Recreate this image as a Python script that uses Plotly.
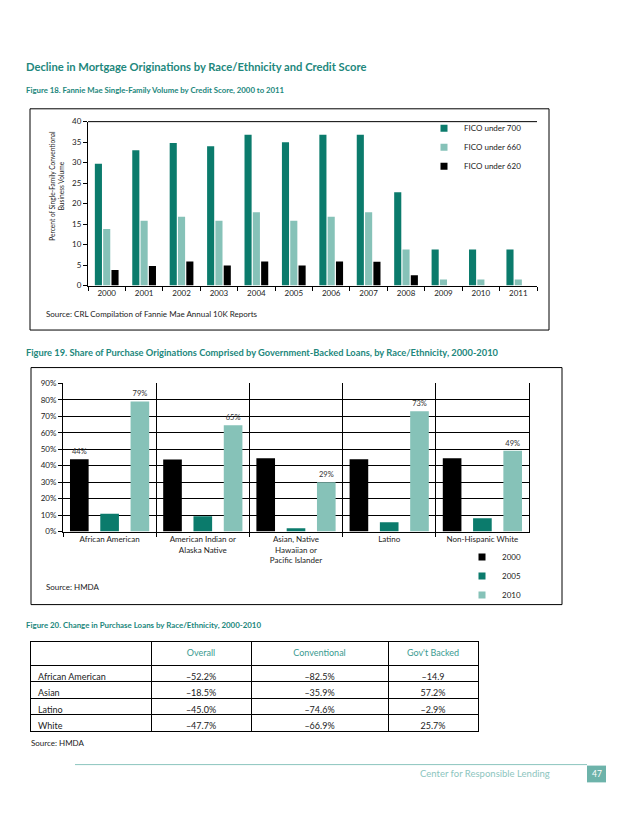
import plotly.graph_objects as go

# page is 638x826; the browser body margin (8px) offsets the figure
W, H = 622, 810
OFF = 8
def px(x): return (x - OFF) / W
def py(y): return 1 - (y - OFF) / H

TEAL_T = "#22877c"
DARK = "#0b7b6c"
LIGHT = "#86c2b8"
BLACK = "#000000"
FONT = "Lato"

# ---- Figure 18 data ----
years = ["2000", "2001", "2002", "2003", "2004", "2005", "2006", "2007", "2008", "2009", "2010", "2011"]
fico700 = [29.7, 33.0, 34.8, 34.0, 36.8, 35.0, 36.8, 36.8, 22.8, 8.8, 8.8, 8.8]
fico660 = [13.8, 15.8, 16.8, 15.8, 17.9, 15.8, 16.8, 17.9, 8.8, 1.5, 1.5, 1.5]
fico620 = [3.8, 4.8, 5.9, 4.9, 5.9, 4.9, 5.9, 5.8, 2.5, 0, 0, 0]
series18 = ["FICO under 700", "FICO under 660", "FICO under 620"]

# ---- Figure 19 data ----
groups = ["African American", "American Indian or<br>Alaska Native",
          "Asian, Native<br>Hawaiian or<br>Pacific Islander", "Latino", "Non-Hispanic White"]
share2000 = [43.9, 43.8, 44.5, 43.9, 44.5]
share2005 = [10.8, 9.2, 2.0, 5.6, 8.0]
share2010 = [79, 64.5, 30, 73, 49]
labels2000 = ["44%", "", "", "", ""]
labels2010 = ["79%", "65%", "29%", "73%", "49%"]
series19 = ["2000", "2005", "2010"]

# ---- Figure 20 data ----
tbl_rows = ["African American", "Asian", "Latino", "White"]
tbl_overall = ["–52.2%", "–18.5%", "–45.0%", "–47.7%"]
tbl_conv = ["–82.5%", "–35.9%", "–74.6%", "–66.9%"]
tbl_gov = ["–14.9", "57.2%", "–2.9%", "25.7%"]
tbl_header = ["", "Overall", "Conventional", "Gov't Backed"]

fig = go.Figure()

# Figure 18 bars
w1 = 0.19
for vals, name, col, off in [(fico700, series18[0], DARK, -0.317),
                              (fico660, series18[1], LIGHT, -0.095),
                              (fico620, series18[2], BLACK, 0.127)]:
    fig.add_trace(go.Bar(x=years, y=vals, name=name, marker=dict(color=col, line=dict(width=0)),
                         width=w1, offset=off, showlegend=False, xaxis="x", yaxis="y"))
    fig.add_trace(go.Scatter(x=[None], y=[None], mode="markers", name=name,
                             marker=dict(symbol="square", size=7, color=col),
                             legend="legend", xaxis="x", yaxis="y"))

# Figure 19 bars
w2 = 0.2
for vals, name, col, off, txt in [(share2000, series19[0], BLACK, -0.425, labels2000),
                                   (share2005, series19[1], DARK, -0.1, None),
                                   (share2010, series19[2], LIGHT, 0.225, labels2010)]:
    fig.add_trace(go.Bar(x=groups, y=vals, name=name, marker=dict(color=col, line=dict(width=0)),
                         width=w2, offset=off, showlegend=False, xaxis="x2", yaxis="y2",
                         text=txt, textposition="outside", cliponaxis=False,
                         textfont=dict(family=FONT, size=7.5, color="#333")))
    fig.add_trace(go.Scatter(x=[None], y=[None], mode="markers", name=name,
                             marker=dict(symbol="square", size=7, color=col),
                             legend="legend2", xaxis="x2", yaxis="y2"))

# Figure 20 table
fig.add_trace(go.Table(
    domain=dict(x=[px(30), px(478)], y=[py(745), py(644)]),
    columnwidth=[121, 100, 137, 90],
    header=dict(values=tbl_header, height=24, align=["left", "center", "center", "center"],
                fill_color="white", line=dict(color="black", width=1),
                font=dict(family=FONT, size=9, color="#3a9a90")),
    cells=dict(values=[tbl_rows, tbl_overall, tbl_conv, tbl_gov], height=16.5,
               align=["left", "center", "center", "center"],
               fill_color="white", line=dict(color="black", width=1),
               font=dict(family=FONT, size=9, color="#222")),
))

axfont = dict(family=FONT, size=8, color="#222")
fig.update_layout(
    width=W, height=H, margin=dict(l=0, r=0, t=0, b=0),
    paper_bgcolor="white", plot_bgcolor="white",
    font=dict(family=FONT, size=8, color="#222"),
    xaxis=dict(domain=[px(88), px(537)], anchor="y", type="category", showline=True,
               linecolor="black", linewidth=1, ticks="outside", tickson="boundaries",
               ticklen=4, tickcolor="black", showgrid=False, tickfont=axfont),
    yaxis=dict(domain=[py(284), py(118)], anchor="x", range=[0, 40], dtick=5, showline=True,
               linecolor="black", linewidth=1, ticks="outside", ticklen=4, tickcolor="black",
               showgrid=False, zeroline=False, tickfont=axfont),
    xaxis2=dict(domain=[px(63), px(529)], anchor="y2", type="category", showline=True,
                linecolor="black", linewidth=1, ticks="outside", tickson="boundaries",
                ticklen=4, tickcolor="black", showgrid=True, gridcolor="black", gridwidth=1,
                tickfont=axfont),
    yaxis2=dict(domain=[py(533), py(383)], anchor="x2", range=[0, 90], dtick=10, showline=True,
                mirror=True, linecolor="black", linewidth=1, ticks="outside", ticklen=4,
                tickcolor="black", showgrid=True, gridcolor="black", gridwidth=1,
                zeroline=False, ticksuffix="%", tickfont=axfont),
    legend=dict(x=px(424), y=py(110), xanchor="left", yanchor="top", bgcolor="rgba(0,0,0,0)",
                font=dict(family=FONT, size=8, color="#222"), itemwidth=30),
    legend2=dict(x=px(462), y=py(544), xanchor="left", yanchor="top", bgcolor="rgba(0,0,0,0)",
                 font=dict(family=FONT, size=8, color="#222"), itemwidth=30),
)

def note(text, x, y, size=8, color="#222", bold=False, xanchor="left", angle=0):
    if bold:
        text = "<b>" + text + "</b>"
    fig.add_annotation(text=text, x=px(x), y=py(y), xref="paper", yref="paper",
                       xanchor=xanchor, yanchor="middle", showarrow=False, textangle=angle,
                       font=dict(family=FONT, size=size, color=color))

note("Decline in Mortgage Originations by Race/Ethnicity and Credit Score", 24, 62, 11.2, TEAL_T, True)
note("Figure 18. Fannie Mae Single-Family Volume by Credit Score, 2000 to 2011", 24, 86, 7.8, TEAL_T, True)
note("Percent of Single-Family Conventional<br>Business Volume", 57, 183, 6.6, xanchor="center", angle=-90)
note("Source: CRL Compilation of Fannie Mae Annual 10K Reports", 44, 313, 8)
note("Figure 19. Share of Purchase Originations Comprised by Government-Backed Loans, by Race/Ethnicity, 2000-2010",
     24, 352, 9.3, TEAL_T, True)
note("Source: HMDA", 44, 589, 8)
note("Figure 20. Change in Purchase Loans by Race/Ethnicity, 2000-2010", 24, 628, 7.9, TEAL_T, True)
note("Source: HMDA", 29, 747, 8)
note("Center for Responsible Lending", 485, 778, 9.5, "#8cc5be", xanchor="center")
note("47", 596.5, 778.5, 8.5, "white", xanchor="center")

shapes = [
    dict(type="rect", xref="paper", yref="paper", x0=px(30), x1=px(549), y0=py(329), y1=py(105),
         line=dict(color="black", width=1)),
    dict(type="rect", xref="paper", yref="paper", x0=px(31), x1=px(562), y0=py(607), y1=py(367),
         line=dict(color="black", width=1)),
    dict(type="line", xref="x domain", yref="y domain", x0=0, x1=1, y0=1, y1=1,
         line=dict(color="black", width=1)),
    dict(type="line", xref="paper", yref="paper", x0=px(75), x1=px(587), y0=py(769), y1=py(769),
         line=dict(color="#8cc5be", width=1)),
    dict(type="rect", xref="paper", yref="paper", x0=px(587), x1=px(606), y0=py(787), y1=py(770),
         fillcolor="#6db3aa", line=dict(width=0)),
]
fig.update_layout(shapes=shapes)

fig.write_html("out.html")
